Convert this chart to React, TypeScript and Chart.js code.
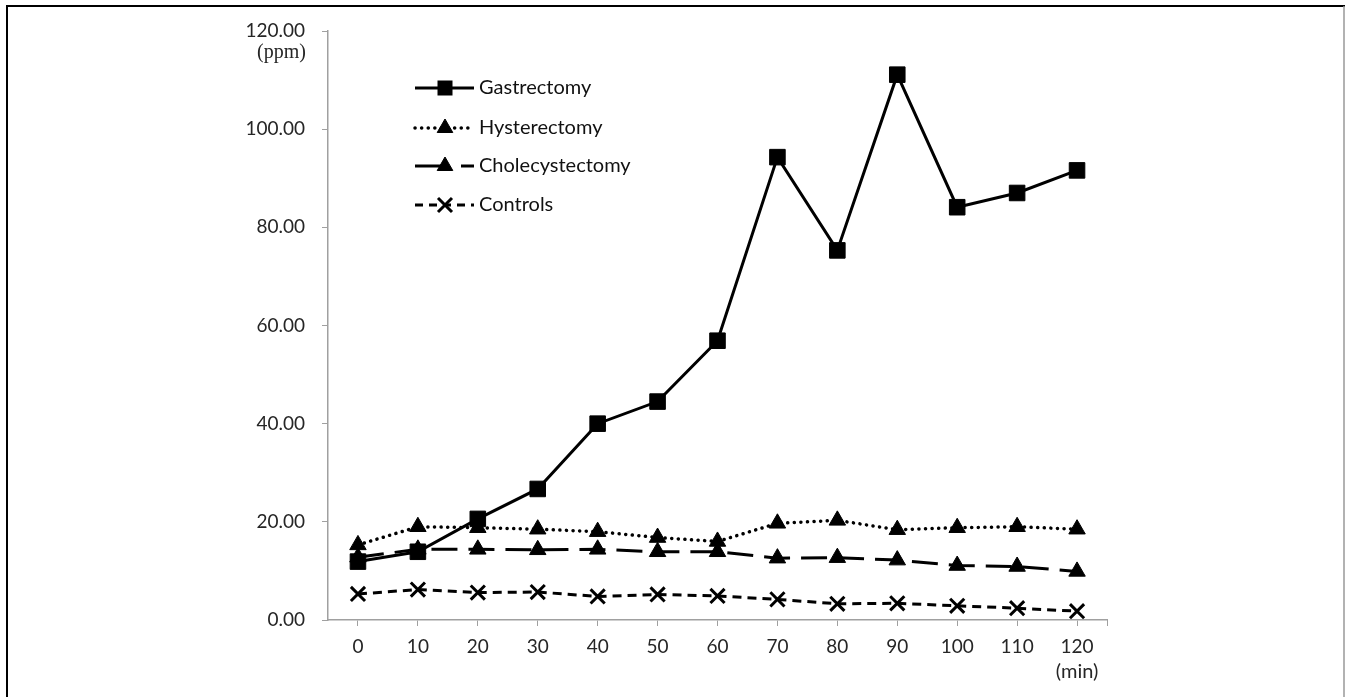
import React, { useEffect, useRef } from "react";
import { Chart, registerables } from "chart.js";

Chart.register(...registerables);

const timeLabels = ["0", "10", "20", "30", "40", "50", "60", "70", "80", "90", "100", "110", "120"];
const gastrectomy = [11.9, 13.9, 20.6, 26.7, 40.0, 44.5, 56.9, 94.3, 75.3, 111.1, 84.1, 87.0, 91.6];
const hysterectomy = [15.3, 19.0, 18.8, 18.5, 18.0, 16.8, 16.0, 19.7, 20.3, 18.4, 18.8, 19.0, 18.5];
const cholecystectomy = [12.8, 14.4, 14.4, 14.3, 14.4, 13.9, 13.9, 12.6, 12.7, 12.2, 11.1, 10.9, 9.9];
const controls = [5.3, 6.2, 5.6, 5.7, 4.8, 5.2, 4.9, 4.2, 3.3, 3.4, 2.9, 2.4, 1.8];
const yTicks = [0, 20, 40, 60, 80, 100, 120];

const FONT = "Lato";
const AXIS_GRAY = "#a0a0a0";
const TEXT = "#262626";

type Style = {
  dash: number[];
  legendDash: number[];
  cap: CanvasLineCap;
  width: number;
  marker: "rect" | "triangle" | "crossRot";
};

const styles: Style[] = [
  { dash: [], legendDash: [], cap: "butt", width: 3, marker: "rect" },
  { dash: [0.1, 6.5], legendDash: [0.1, 6.5], cap: "round", width: 3.5, marker: "triangle" },
  { dash: [26, 11], legendDash: [32, 14], cap: "butt", width: 3, marker: "triangle" },
  { dash: [9, 6], legendDash: [8, 6], cap: "butt", width: 3, marker: "crossRot" },
];
const names = ["Gastrectomy", "Hysterectomy", "Cholecystectomy", "Controls"];
const series = [gastrectomy, hysterectomy, cholecystectomy, controls];

function drawMarker(ctx: CanvasRenderingContext2D, kind: string, x: number, y: number) {
  ctx.save();
  ctx.setLineDash([]);
  ctx.fillStyle = "#000";
  ctx.strokeStyle = "#000";
  if (kind === "rect") {
    ctx.fillRect(x - 7.5, y - 7.5, 15, 15);
  } else if (kind === "triangle") {
    ctx.beginPath();
    ctx.moveTo(x, y - 9);
    ctx.lineTo(x + 7.8, y + 4.5);
    ctx.lineTo(x - 7.8, y + 4.5);
    ctx.closePath();
    ctx.fill();
    ctx.lineWidth = 1;
    ctx.stroke();
  } else {
    ctx.lineWidth = 3;
    ctx.beginPath();
    ctx.moveTo(x - 7, y - 7);
    ctx.lineTo(x + 7, y + 7);
    ctx.moveTo(x + 7, y - 7);
    ctx.lineTo(x - 7, y + 7);
    ctx.stroke();
  }
  ctx.restore();
}

const decorPlugin = {
  id: "decor",
  beforeDraw(chart: any) {
    const ctx = chart.ctx as CanvasRenderingContext2D;
    ctx.save();
    ctx.fillStyle = "#fff";
    ctx.fillRect(0, 0, chart.width, chart.height);
    ctx.strokeStyle = "#000";
    ctx.lineWidth = 2;
    ctx.beginPath();
    ctx.moveTo(7, chart.height);
    ctx.lineTo(7, 6);
    ctx.lineTo(chart.width, 6);
    ctx.stroke();
    ctx.strokeStyle = "#999";
    ctx.lineWidth = 1.5;
    ctx.beginPath();
    ctx.moveTo(1344, 6);
    ctx.lineTo(1344, chart.height);
    ctx.stroke();
    ctx.restore();
  },
  afterDraw(chart: any) {
    const ctx = chart.ctx as CanvasRenderingContext2D;
    const area = chart.chartArea;
    ctx.save();
    ctx.strokeStyle = AXIS_GRAY;
    ctx.lineWidth = 1;
    ctx.beginPath();
    ctx.moveTo(area.right + 0.5, area.bottom);
    ctx.lineTo(area.right + 0.5, area.bottom + 6);
    ctx.stroke();
    ctx.fillStyle = TEXT;
    ctx.font = `20px "Liberation Serif"`;
    ctx.textAlign = "right";
    ctx.textBaseline = "middle";
    ctx.fillText("(ppm)", 306, 53);
    const xs = chart.scales.x;
    ctx.font = `20px ${FONT}`;
    ctx.textAlign = "center";
    ctx.fillText("(min)", xs.getPixelForValue(timeLabels.length - 1), 672);
    const ys = [88, 128, 166, 205];
    names.forEach((name, i) => {
      const st = styles[i];
      const y = ys[i];
      ctx.save();
      ctx.strokeStyle = "#000";
      ctx.lineWidth = st.width;
      ctx.lineCap = st.cap;
      ctx.setLineDash(st.legendDash);
      ctx.beginPath();
      ctx.moveTo(415, y);
      ctx.lineTo(474, y);
      ctx.stroke();
      ctx.restore();
      drawMarker(ctx, st.marker, 445, y);
      ctx.fillStyle = "#111";
      ctx.font = `20px ${FONT}`;
      ctx.textAlign = "left";
      ctx.textBaseline = "middle";
      ctx.fillText(name, 479, y);
    });
    ctx.restore();
  },
};

export default function App() {
  const ref = useRef<HTMLCanvasElement | null>(null);
  useEffect(() => {
    document.body.style.margin = "0";
    const canvas = ref.current!;
    const chart = new Chart(canvas, {
      type: "line",
      data: {
        labels: timeLabels,
        datasets: series.map((d, i) => ({
          label: names[i],
          data: d,
          borderColor: "#000",
          backgroundColor: "#000",
          borderWidth: styles[i].width,
          borderDash: styles[i].dash,
          borderCapStyle: styles[i].cap,
          pointStyle: styles[i].marker,
          pointRadius: styles[i].marker === "rect" ? 11 : styles[i].marker === "triangle" ? 9.5 : 10,
          pointBorderWidth: styles[i].marker === "crossRot" ? 3 : 1,
          pointBorderColor: "#000",
          pointBackgroundColor: "#000",
          tension: 0,
          order: i,
        })),
      },
      options: {
        responsive: false,
        animation: false,
        events: [],
        layout: { padding: { left: 228, right: 238, top: 31, bottom: 37 } },
        plugins: { legend: { display: false }, tooltip: { enabled: false } },
        scales: {
          x: {
            type: "category",
            offset: true,
            grid: {
              display: true,
              drawOnChartArea: false,
              drawTicks: true,
              tickLength: 6,
              color: AXIS_GRAY,
              offset: false,
            },
            border: { display: true, color: AXIS_GRAY, width: 1.5 },
            ticks: { color: TEXT, font: { family: FONT, size: 19 }, padding: 9, maxRotation: 0 },
            afterFit: (s: any) => {
              s.height = 40;
            },
          },
          y: {
            min: 0,
            max: 120,
            afterBuildTicks: (s: any) => {
              s.ticks = yTicks.map((v) => ({ value: v }));
            },
            grid: {
              display: true,
              drawOnChartArea: false,
              drawTicks: true,
              tickLength: 6,
              color: AXIS_GRAY,
            },
            border: { display: true, color: AXIS_GRAY, width: 1.5 },
            ticks: {
              color: TEXT,
              font: { family: FONT, size: 19 },
              padding: 17,
              callback: (v: any) => Number(v).toFixed(2),
            },
            afterFit: (s: any) => {
              s.width = 100;
            },
          },
        },
      },
      plugins: [decorPlugin],
    });
    return () => chart.destroy();
  }, []);
  return (
    <div style={{ position: "absolute", left: 0, top: 0, width: 1345, height: 697 }}>
      <canvas ref={ref} width={1345} height={697} style={{ display: "block" }} />
    </div>
  );
}
